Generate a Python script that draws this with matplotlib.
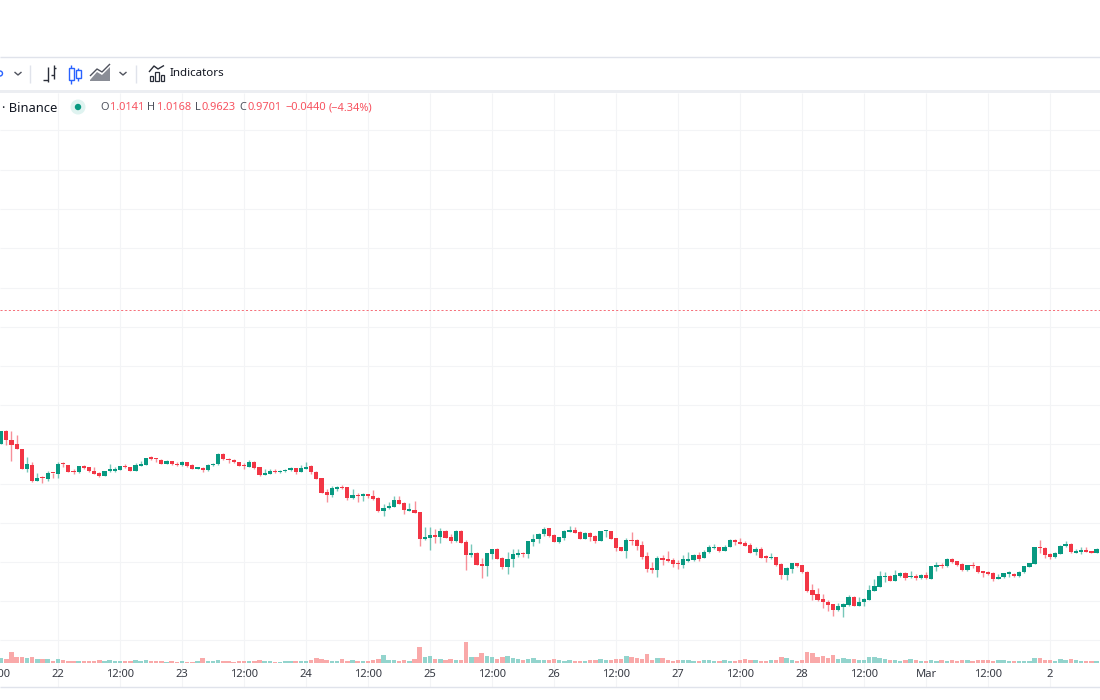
import numpy as np
import matplotlib
matplotlib.use("Agg")
import matplotlib.pyplot as plt
from matplotlib.patches import Circle, Rectangle

plt.rcParams['font.family'] = ['Noto Sans', 'DejaVu Sans']

# Chart levels (the price scale itself is cropped out of the picture)
opens = [928,967,940,928,913,853,866,817,828,822,842,
838,869,866,848,843,861,858,847,840,833,848,848,851,861,858,848,863,865,887,884,881,869,876,869,864,873,864,854,855,850,864,867,898,883,881,874,864,859,874,858,836,838,847,
844,846,849,855,844,854,863,845,825,784,776,794,798,799,766,776,773,775,772,766,727,735,740,759,750,728,731,724,644,647,656,649,668,648,636,667,633,594,602,568,562,598,614,587,558,583,595,602,597,634,642,657,675,654,
633,646,664,670,665,643,662,652,638,666,667,647,618,608,640,639,625,592,556,550,587,582,579,569,564,578,579,594,587,603,615,618,608,619,641,635,631,625,603,612,589,585,589,568,536,554,571,564,545,489,478,
463,453,447,429,440,445,470,442,453,460,488,500,529,533,517,533,541,529,533,525,535,524,560,565,561,584,576,568,549,564,561,546,544,541,523,528,539,539,532,544,560,568,618,616,598,589,598,621,629,602,603,610,605,602]
highs = [967,970,967,955,913,889,873,840,832,847,842,
873,873,866,853,861,866,860,858,843,848,868,860,863,867,860,871,876,887,892,886,883,879,876,873,877,874,868,859,859,867,871,902,900,886,882,875,872,880,876,860,852,854,854,
850,852,859,856,866,873,865,848,825,792,802,802,806,799,793,781,781,779,790,768,747,754,773,772,755,752,757,724,678,680,674,675,670,658,670,669,639,628,605,585,602,614,615,588,605,613,614,604,636,658,660,680,677,658,
650,670,683,680,666,664,664,654,668,670,668,647,620,645,664,643,636,603,574,591,594,607,586,579,594,605,598,603,611,624,628,620,625,642,644,645,636,632,620,620,595,600,589,570,558,572,572,566,546,508,496,
478,460,449,452,450,475,472,468,467,505,522,546,545,535,550,545,544,546,537,539,544,561,575,570,586,586,578,570,566,573,563,548,547,545,537,542,546,540,547,563,572,619,640,620,600,603,625,636,630,612,620,620,608,615]
lows = [928,925,878,913,853,845,814,817,812,817,827,
827,860,845,838,842,854,845,837,829,833,845,844,850,855,847,847,863,864,880,874,867,868,866,863,862,859,853,852,845,848,862,866,881,870,871,861,854,858,854,833,836,837,840,
842,844,848,838,843,853,838,822,782,753,770,788,794,759,764,753,758,766,761,724,712,732,739,747,717,727,720,623,640,610,632,632,645,630,635,631,550,590,565,527,532,584,582,552,538,558,588,588,587,621,630,652,650,633,
632,640,663,660,642,642,638,630,637,650,642,608,606,586,625,610,583,545,541,529,564,575,559,554,556,575,578,577,585,601,612,604,607,618,625,627,622,600,595,586,575,584,563,524,520,541,560,542,483,460,458,
435,428,413,428,410,442,441,441,442,459,487,499,515,516,516,530,520,526,521,524,524,523,548,556,560,572,563,548,548,555,542,530,536,518,522,527,530,530,530,542,558,567,600,585,584,587,597,620,602,601,598,603,600,600]
closes = [967,940,925,913,853,867,817,825,825,840,840,
867,867,845,844,861,856,846,838,833,847,850,853,861,859,848,866,866,887,884,882,869,876,867,865,874,862,854,856,849,864,869,898,883,880,873,862,861,874,856,836,840,848,844,
848,850,856,844,856,860,844,824,782,776,796,799,796,766,775,772,776,773,763,726,736,742,759,748,730,733,721,644,648,656,649,667,646,636,667,632,594,602,566,562,600,612,584,558,584,597,602,597,636,644,659,674,653,635,
648,668,670,662,643,662,648,638,667,668,644,615,608,639,636,623,590,553,550,587,580,578,567,567,582,582,595,584,605,618,618,607,620,641,635,628,623,602,612,587,587,589,564,535,556,572,561,543,486,476,460,
453,445,429,441,447,470,442,455,462,490,502,533,533,517,535,540,525,532,525,536,525,561,563,562,584,574,566,549,564,562,544,542,539,523,529,540,542,533,545,562,571,618,615,595,589,600,623,629,603,606,610,604,602,613]
volumes = [13,11,32,16,18,13,16,11,11,11,6,
11,9,6,6,5,6,6,6,9,6,9,6,6,6,6,9,6,9,6,6,6,3,6,2,6,3,3,6,14,6,6,9,6,6,3,6,6,6,6,9,6,6,2,3,6,6,6,
6,6,9,14,12,9,6,6,11,6,9,6,6,6,9,11,22,9,9,6,9,6,11,47,16,21,11,11,8,11,9,9,60,16,16,29,21,16,11,16,21,13,11,8,11,15,9,9,8,
11,8,6,8,5,5,5,8,8,11,8,8,11,11,
21,18,14,11,27,9,15,13,8,5,8,8,8,5,5,8,8,5,5,8,5,5,8,11,8,8,5,5,8,8,16,13,8,5,8,32,29,16,21,13,24,11,14,12,11,8,8,18,18,14,11,8,8,6,9,11,8,5,5,8,5,8,5,8,5,8,8,5,8,8,8,5,8,8,5,5,5,5,5,13,13,8,8,5,10,8,11,8,5,5,5,5]

hour_ticks = [-12,0,12,24,36,48,60,72,84,96,108,120,132,144,156,168,180,192]
tick_labels = ['12:00','22','12:00','23','12:00','24','12:00','25','12:00','26','12:00','27','12:00','28','12:00','Mar','12:00','2']
grid_levels = [1870,1750,1633,1516,1396,1279,1162,1045,928,808,691,574,457,340]
last_level = 1329

RED, GREEN = '#f23645', '#089981'
VRED, VGREEN = '#f9a9a9', '#93d4cd'
TXT = '#131722'
LEG_RED = '#f7525f'
GRID = '#f3f4f6'

o, h, l, c = map(np.array, (opens, highs, lows, closes))
vol = np.array(volumes)
idx = np.arange(-11, -11 + len(o))
up = c >= o
colors = np.where(up, GREEN, RED)

fig = plt.figure(figsize=(11, 7), dpi=100, facecolor='white')
ax = fig.add_axes([0, 0, 1, 1])
# one candle = 5.167 px, candle 0 at x=58 px
ax.set_xlim(-58 / 5.167, (1100 - 58) / 5.167)
ax.set_ylim(160, 2260)
ax.axis('off')

ax.hlines(grid_levels, *ax.get_xlim(), color=GRID, lw=0.8, zorder=1)
ax.vlines(hour_ticks, 199, 1981, color=GRID, lw=0.8, zorder=1)
ax.axhline(last_level, color=RED, lw=0.72, ls=(0, (2.08, 2.08)), alpha=0.7, zorder=2)

ax.vlines(idx, l, h, colors=colors, lw=1.0, alpha=0.55, zorder=3)
ax.bar(idx, np.maximum(np.abs(c - o), 4), bottom=np.minimum(o, c), width=0.82,
       color=colors, lw=0, zorder=4)

vx = ax.twinx()
vx.set_position([0, 0, 1, 1])
vx.set_xlim(ax.get_xlim())
vx.set_ylim(-(700 - 663) * 2.857, 663 * 2.857)
vx.axis('off')
vx.bar(idx, vol, width=0.85, color=np.where(up, VGREEN, VRED), lw=0, zorder=3)

for t, lab in zip(hour_ticks, tick_labels):
    ax.text(t, 3 * (753.33 - 674.7), lab, ha='center', va='center', fontsize=8, color=TXT,
            fontweight='bold' if lab == 'Mar' else 'normal', alpha=0.85, zorder=6)

# TradingView chrome, in pixel coordinates
ui = fig.add_axes([0, 0, 1, 1])
ui.set_xlim(0, 1100)
ui.set_ylim(700, 0)
ui.axis('off')
ui.patch.set_alpha(0)

def seg(xs, ys, col='#2a2e39', lw=1.0):
    ui.plot(xs, ys, color=col, lw=lw, solid_capstyle='butt')

seg([0, 1100], [56.5, 56.5], '#e0e3eb', 1)
ui.add_patch(Rectangle((0, 90), 1100, 3, color='#eceef2', lw=0))
seg([0, 1100], [687, 687], '#e0e3eb', 1)
seg([29.5, 29.5], [65, 83], '#e0e3eb', 1)
seg([135.5, 135.5], [65, 83], '#e0e3eb', 1)

# clipped blue dot of the interval control
ui.add_patch(Circle((0, 73.5), 2.5, fc='none', ec='#2962ff', lw=1))
for cx in (18, 123):
    seg([cx - 3.5, cx, cx + 3.5], [72, 75, 72], '#50535e', 1)

# bars icon
seg([47.5, 47.5], [67, 82]); seg([43, 47.5], [79.5, 79.5])
seg([53.5, 53.5], [65, 79]); seg([53.5, 56], [68, 68]); seg([51, 53.5], [75, 75])
# candles icon
for cx, y0, y1, y2, y3 in [(71, 65, 68, 80, 84), (78, 68, 70, 78, 81)]:
    seg([cx, cx], [y0, y3], '#2962ff', 1)
    ui.add_patch(Rectangle((cx - 2.5, y1), 5, y2 - y1, fc='white', ec='#2962ff', lw=1, zorder=5))
# area icon
ui.fill([90, 97, 102, 110, 110, 90], [80, 72, 75, 67, 81, 81], color='#8a8d96', lw=0)
seg([90, 97, 102, 110], [76, 69, 72, 64], '#50535e', 1)
# indicators icon
for bx, by in [(149.5, 76), (155, 72), (160.5, 75)]:
    ui.add_patch(Rectangle((bx, by), 3.5, 81 - by, fc='white', ec='#2a2e39', lw=0.9))
seg([149, 154, 158, 164], [72, 66, 69, 65.5], '#2a2e39', 1)
ui.text(169.5, 73.5, 'Indicators', fontsize=8.3, color=TXT, va='center', ha='left')

ui.text(2, 108, '\u00b7 Binance', fontsize=9.3, color=TXT, va='center', ha='left')
ui.add_patch(Circle((78, 107), 7.5, fc='#dff3f0', ec='none'))
ui.add_patch(Circle((78, 107), 3.2, fc=GREEN, ec='none'))
for x, s, col in [(100, 'O', '#50535e'), (110, '1.0141', LEG_RED),
                  (147.5, 'H', '#50535e'), (157, '1.0168', LEG_RED),
                  (194.5, 'L', '#50535e'), (201, '0.9623', LEG_RED),
                  (239, 'C', '#50535e'), (247, '0.9701', LEG_RED),
                  (286, '\u22120.0440', LEG_RED), (329, '(\u22124.34%)', LEG_RED)]:
    ui.text(x, 108, s, fontsize=7.9, color=col, va='center', ha='left')

fig.savefig('out.png', dpi=100)
